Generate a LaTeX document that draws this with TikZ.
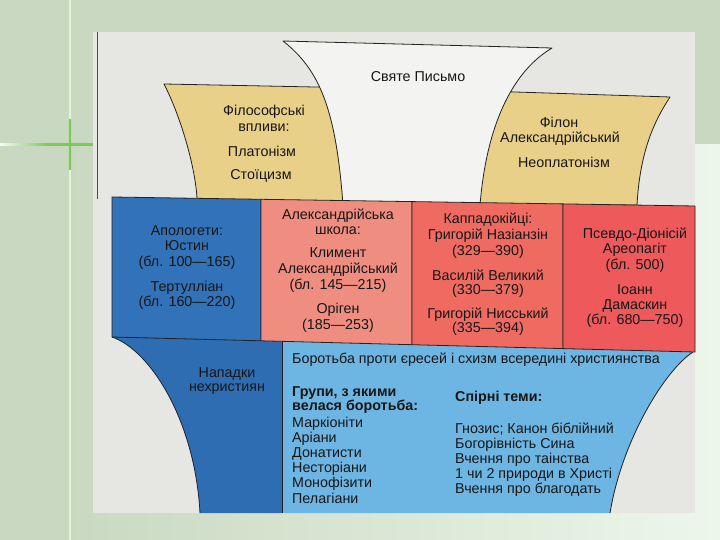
\documentclass[tikz,border=0pt]{standalone}
\usepackage{fontspec}
\setmainfont{Liberation Sans}
\definecolor{bgdark}{HTML}{C9D9C1}
\definecolor{bglight}{HTML}{EDF6EB}
\definecolor{scan}{HTML}{E6E6E3}
\definecolor{paper}{HTML}{F3F3F1}
\definecolor{yel}{HTML}{E9D089}
\definecolor{blueA}{HTML}{3272B8}
\definecolor{blueB}{HTML}{2F6DB3}
\definecolor{sky}{HTML}{6DB5E2}
\definecolor{redA}{HTML}{EF8E80}
\definecolor{redB}{HTML}{EF6B61}
\definecolor{redC}{HTML}{EE5A5C}
\definecolor{ink}{HTML}{222222}
\definecolor{txt}{HTML}{161616}
\definecolor{crossg}{HTML}{0F800F}
\definecolor{palegreen}{HTML}{7ACC56}
\definecolor{vline}{HTML}{E4F4D6}
\newcommand{\fs}{\fontsize{14.3}{15}\selectfont}
\tikzset{
  outl/.style={draw=ink, line width=0.8pt, line join=round},
  t/.style={font=\fs, text=txt, inner sep=0pt, anchor=base},
  tl/.style={t, anchor=base west},
  tb/.style={tl, font=\fs\bfseries},
}
\begin{document}
\begin{tikzpicture}[x=1pt,y=-1pt]
\useasboundingbox (0,0) rectangle (720,540);
% slide background
\fill[bgdark] (0,0) rectangle (720,540);
\shade[left color=bgdark, right color=bglight] (70,145) rectangle (720,540);
\fill[vline] (69.3,0) rectangle (70.8,540);
\shade[left color=white!70!vline, right color=palegreen] (0,143.5) rectangle (47,145.5);
\shade[left color=palegreen, middle color=crossg, right color=palegreen] (47,143.3) rectangle (93,145.7);
\shade[top color=palegreen, middle color=crossg, bottom color=palegreen] (68.8,120) rectangle (71.2,170);
% scanned panel
\fill[scan] (93,32) rectangle (695,513);
\draw[gray!60!black, line width=0.6pt] (97,32) -- (97,199);
% lower regions
\fill[blueB] (112,330) -- (112,337) .. controls (150,350) and (195,420) .. (200,513) -- (282,513) -- (282,330) -- cycle;
\draw[outl] (112,337) .. controls (150,350) and (195,420) .. (200,513);
\fill[sky] (282,330) -- (693,330) -- (693,352) .. controls (665,370) and (622,440) .. (610,513) -- (282,513) -- cycle;
\draw[outl] (693,352) .. controls (665,370) and (622,440) .. (610,513);
\draw[outl] (282,341) -- (282,513);
% yellow side funnels
\path[outl, fill=yel] (197,205) -- (197,198) .. controls (195,165) and (180,115) .. (164,84) -- (340,87.5) -- (345,205) -- cycle;
\path[outl, fill=yel] (500,91.5) -- (670,97) .. controls (655,120) and (640,150) .. (637,205) -- (470,205) -- cycle;
% white central funnel
\fill[paper] (343,205) -- (343,198) .. controls (336,110) and (320,70) .. (283,41) -- (552,48) .. controls (515,70) and (487,120) .. (480,205) -- cycle;
\draw[outl] (343,205) .. controls (336,110) and (320,70) .. (283,41) -- (552,48) .. controls (515,70) and (487,120) .. (480,205);
% band of four boxes
\path[outl, fill=blueA] (112,197) -- (261,199.3) -- (261,340.8) -- (112,337) -- cycle;
\path[outl, fill=redA] (261,199.3) -- (412,201.6) -- (412,344.7) -- (261,340.8) -- cycle;
\path[outl, fill=redB] (412,201.6) -- (563,203.9) -- (563,348.6) -- (412,344.7) -- cycle;
\path[outl, fill=redC] (563,203.9) -- (695,206) -- (695,352) -- (563,348.6) -- cycle;
% texts
\node[t] (sp) at (418,82) {Святе Письмо};
\node[t] (f1) at (264,116) {Філософські};
\node[t] (f2) at (264,131.5) {впливи:};
\node[t] (f3) at (262,156.5) {Платонізм};
\node[t] (f4) at (261,180) {Стоїцизм};
\node[t] (p1) at (559,128) {Філон};
\node[t] (p2) at (560,143) {Александрійський};
\node[t] (p3) at (564,168) {Неоплатонізм};
\node[t] (a1) at (187,236) {Апологети:};
\node[t] (a2) at (187,251) {Юстин};
\node[t] (a3) at (187,266) {(бл. 100—165)};
\node[t] (a4) at (187,291) {Тертулліан};
\node[t] (a5) at (187,306) {(бл. 160—220)};
\node[t] (s1) at (338,219) {Александрійська};
\node[t] (s2) at (338,234) {школа:};
\node[t] (s3) at (338,258) {Климент};
\node[t] (s4) at (338,273.5) {Александрійський};
\node[t] (s5) at (338,289) {(бл. 145—215)};
\node[t] (s6) at (338,313) {Оріген};
\node[t] (s7) at (338,329) {(185—253)};
\node[t] (k1) at (488,224) {Каппадокійці:};
\node[t] (k2) at (488,240) {Григорій Назіанзін};
\node[t] (k3) at (488,255) {(329—390)};
\node[t] (k4) at (488,280) {Василій Великий};
\node[t] (k5) at (488,294) {(330—379)};
\node[t] (k6) at (488,318) {Григорій Нисський};
\node[t] (k7) at (488,332) {(335—394)};
\node[t] (d1) at (635,238) {Псевдо-Діонісій};
\node[t] (d2) at (635,253.5) {Ареопагіт};
\node[t] (d3) at (635,269) {(бл. 500)};
\node[t] (d4) at (635,294.5) {Іоанн};
\node[t] (d5) at (635,309.5) {Дамаскин};
\node[t] (d6) at (635,324.5) {(бл. 680—750)};
\node[t] (n1) at (227,377) {Нападки};
\node[t] (n2) at (227,391) {нехристиян};
\node[tl] (bh) at (292,363) {Боротьба проти єресей і схизм всередині християнства};
\node[tb] (g1) at (292,396) {Групи, з якими};
\node[tb] (g2) at (292,410.5) {велася боротьба:};
\node[tl] (gl1) at (292,427) {Маркіоніти};
\node[tl] (gl2) at (292,442.2) {Аріани};
\node[tl] (gl3) at (292,457.4) {Донатисти};
\node[tl] (gl4) at (292,472.6) {Несторіани};
\node[tl] (gl5) at (292,487.8) {Монофізити};
\node[tl] (gl6) at (292,503) {Пелагіани};
\node[tb] (st) at (455,401.5) {Спірні теми:};
\node[tl] (sl1) at (455,433) {Гнозис; Канон біблійний};
\node[tl] (sl2) at (455,448) {Богорівність Сина};
\node[tl] (sl3) at (455,463) {Вчення про таінства};
\node[tl] (sl4) at (455,478) {1 чи 2 природи в Христі};
\node[tl] (sl5) at (455,493) {Вчення про благодать};
\end{tikzpicture}
\end{document}
